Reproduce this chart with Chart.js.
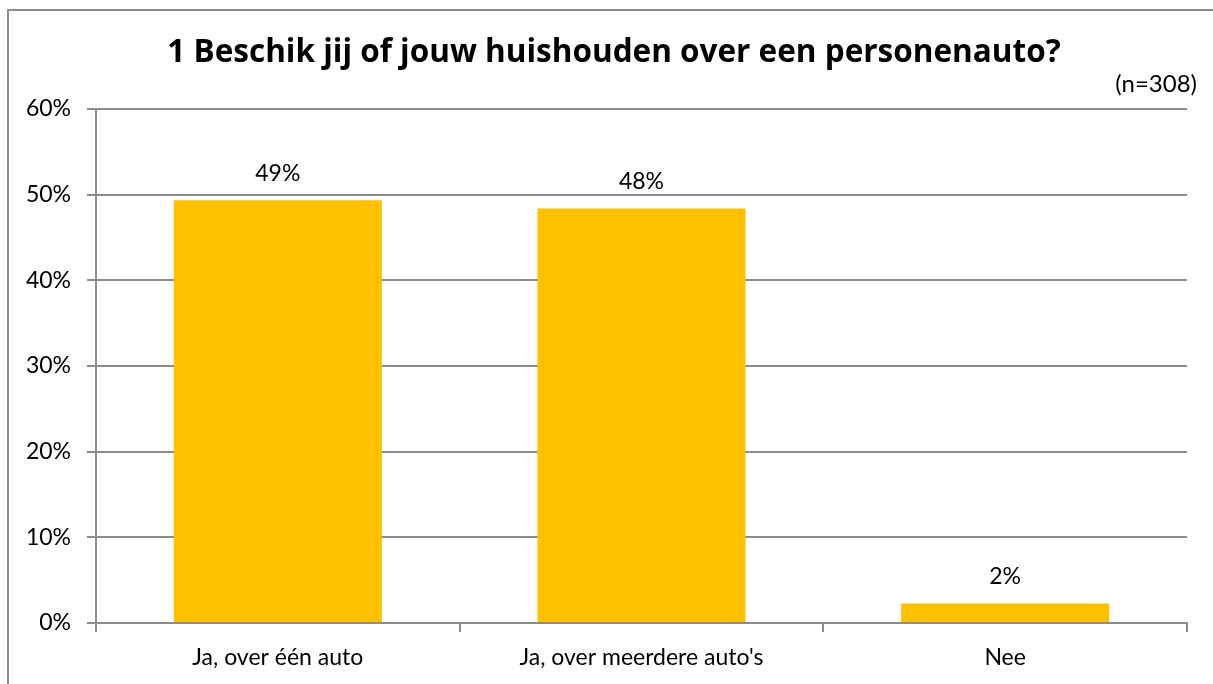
<!DOCTYPE html>
<html>
<head>
<meta charset="utf-8">
<script src="https://cdn.jsdelivr.net/npm/chart.js@4"></script>
<style>
  html, body { margin: 0; padding: 0; background: #fff; overflow: hidden; }
  #frame {
    position: absolute; left: 7px; top: 9px; width: 1220px; height: 700px;
    border-left: 2px solid #8c8c8c; border-top: 2px solid #8c8c8c;
  }
  #wrap { position: absolute; left: 0; top: 0; width: 1213px; height: 684px; }
</style>
</head>
<body>
<div id="frame"></div>
<div id="wrap"><canvas id="autoChart" width="1213" height="684"></canvas></div>
<script>
const categories = ["Ja, over één auto", "Ja, over meerdere auto's", "Nee"];
const shares = [49.35, 48.38, 2.27];
const yTicks = [0, 10, 20, 30, 40, 50, 60];
const titleText = "1 Beschik jij of jouw huishouden over een personenauto?";
const sampleText = "(n=308)";

const FONT = "Lato, 'Open Sans', sans-serif";
const TITLE_FONT = "'Open Sans', Lato, sans-serif";
const GRID = "#8c8c8c";

// title, sample size and the value above each bar
const labelPlugin = {
  id: "labels",
  afterDraw(chart) {
    const ctx = chart.ctx;
    ctx.save();
    ctx.fillStyle = "#000";
    ctx.textBaseline = "middle";

    ctx.font = "bold 31.5px " + TITLE_FONT;
    ctx.textAlign = "center";
    ctx.fillText(titleText, 614, 53);

    ctx.font = "24px " + FONT;
    ctx.textAlign = "right";
    ctx.fillText(sampleText, 1197, 84);

    ctx.font = "23px " + FONT;
    ctx.textAlign = "center";
    const meta = chart.getDatasetMeta(0);
    meta.data.forEach((bar, i) => {
      ctx.fillText(Math.round(shares[i]) + "%", bar.x, bar.y - 27);
    });
    ctx.restore();
  }
};

new Chart(document.getElementById("autoChart"), {
  type: "bar",
  data: {
    labels: categories,
    datasets: [{
      data: shares,
      backgroundColor: "#ffc000",
      borderWidth: 0,
      categoryPercentage: 1,
      barPercentage: 0.572
    }]
  },
  options: {
    responsive: false,
    animation: false,
    layout: { padding: { top: 109, right: 26, left: 0, bottom: 0 } },
    plugins: {
      legend: { display: false },
      tooltip: { enabled: false }
    },
    scales: {
      x: {
        grid: { display: true, drawOnChartArea: false, offset: true, color: GRID, tickLength: 9, lineWidth: 2 },
        border: { color: GRID, width: 2 },
        ticks: { color: "#000", font: { family: FONT, size: 23 }, padding: 12 },
        afterFit(scale) { scale.height = 684 - 623; }
      },
      y: {
        min: 0,
        max: 60,
        afterBuildTicks(scale) { scale.ticks = yTicks.map(v => ({ value: v })); },
        grid: { color: GRID, tickLength: 9, lineWidth: 2 },
        border: { color: GRID, width: 2 },
        ticks: {
          color: "#000",
          font: { family: FONT, size: 23 },
          padding: 16,
          callback: v => v + "%"
        },
        afterFit(scale) { scale.width = 96; }
      }
    }
  },
  plugins: [labelPlugin]
});
</script>
</body>
</html>
